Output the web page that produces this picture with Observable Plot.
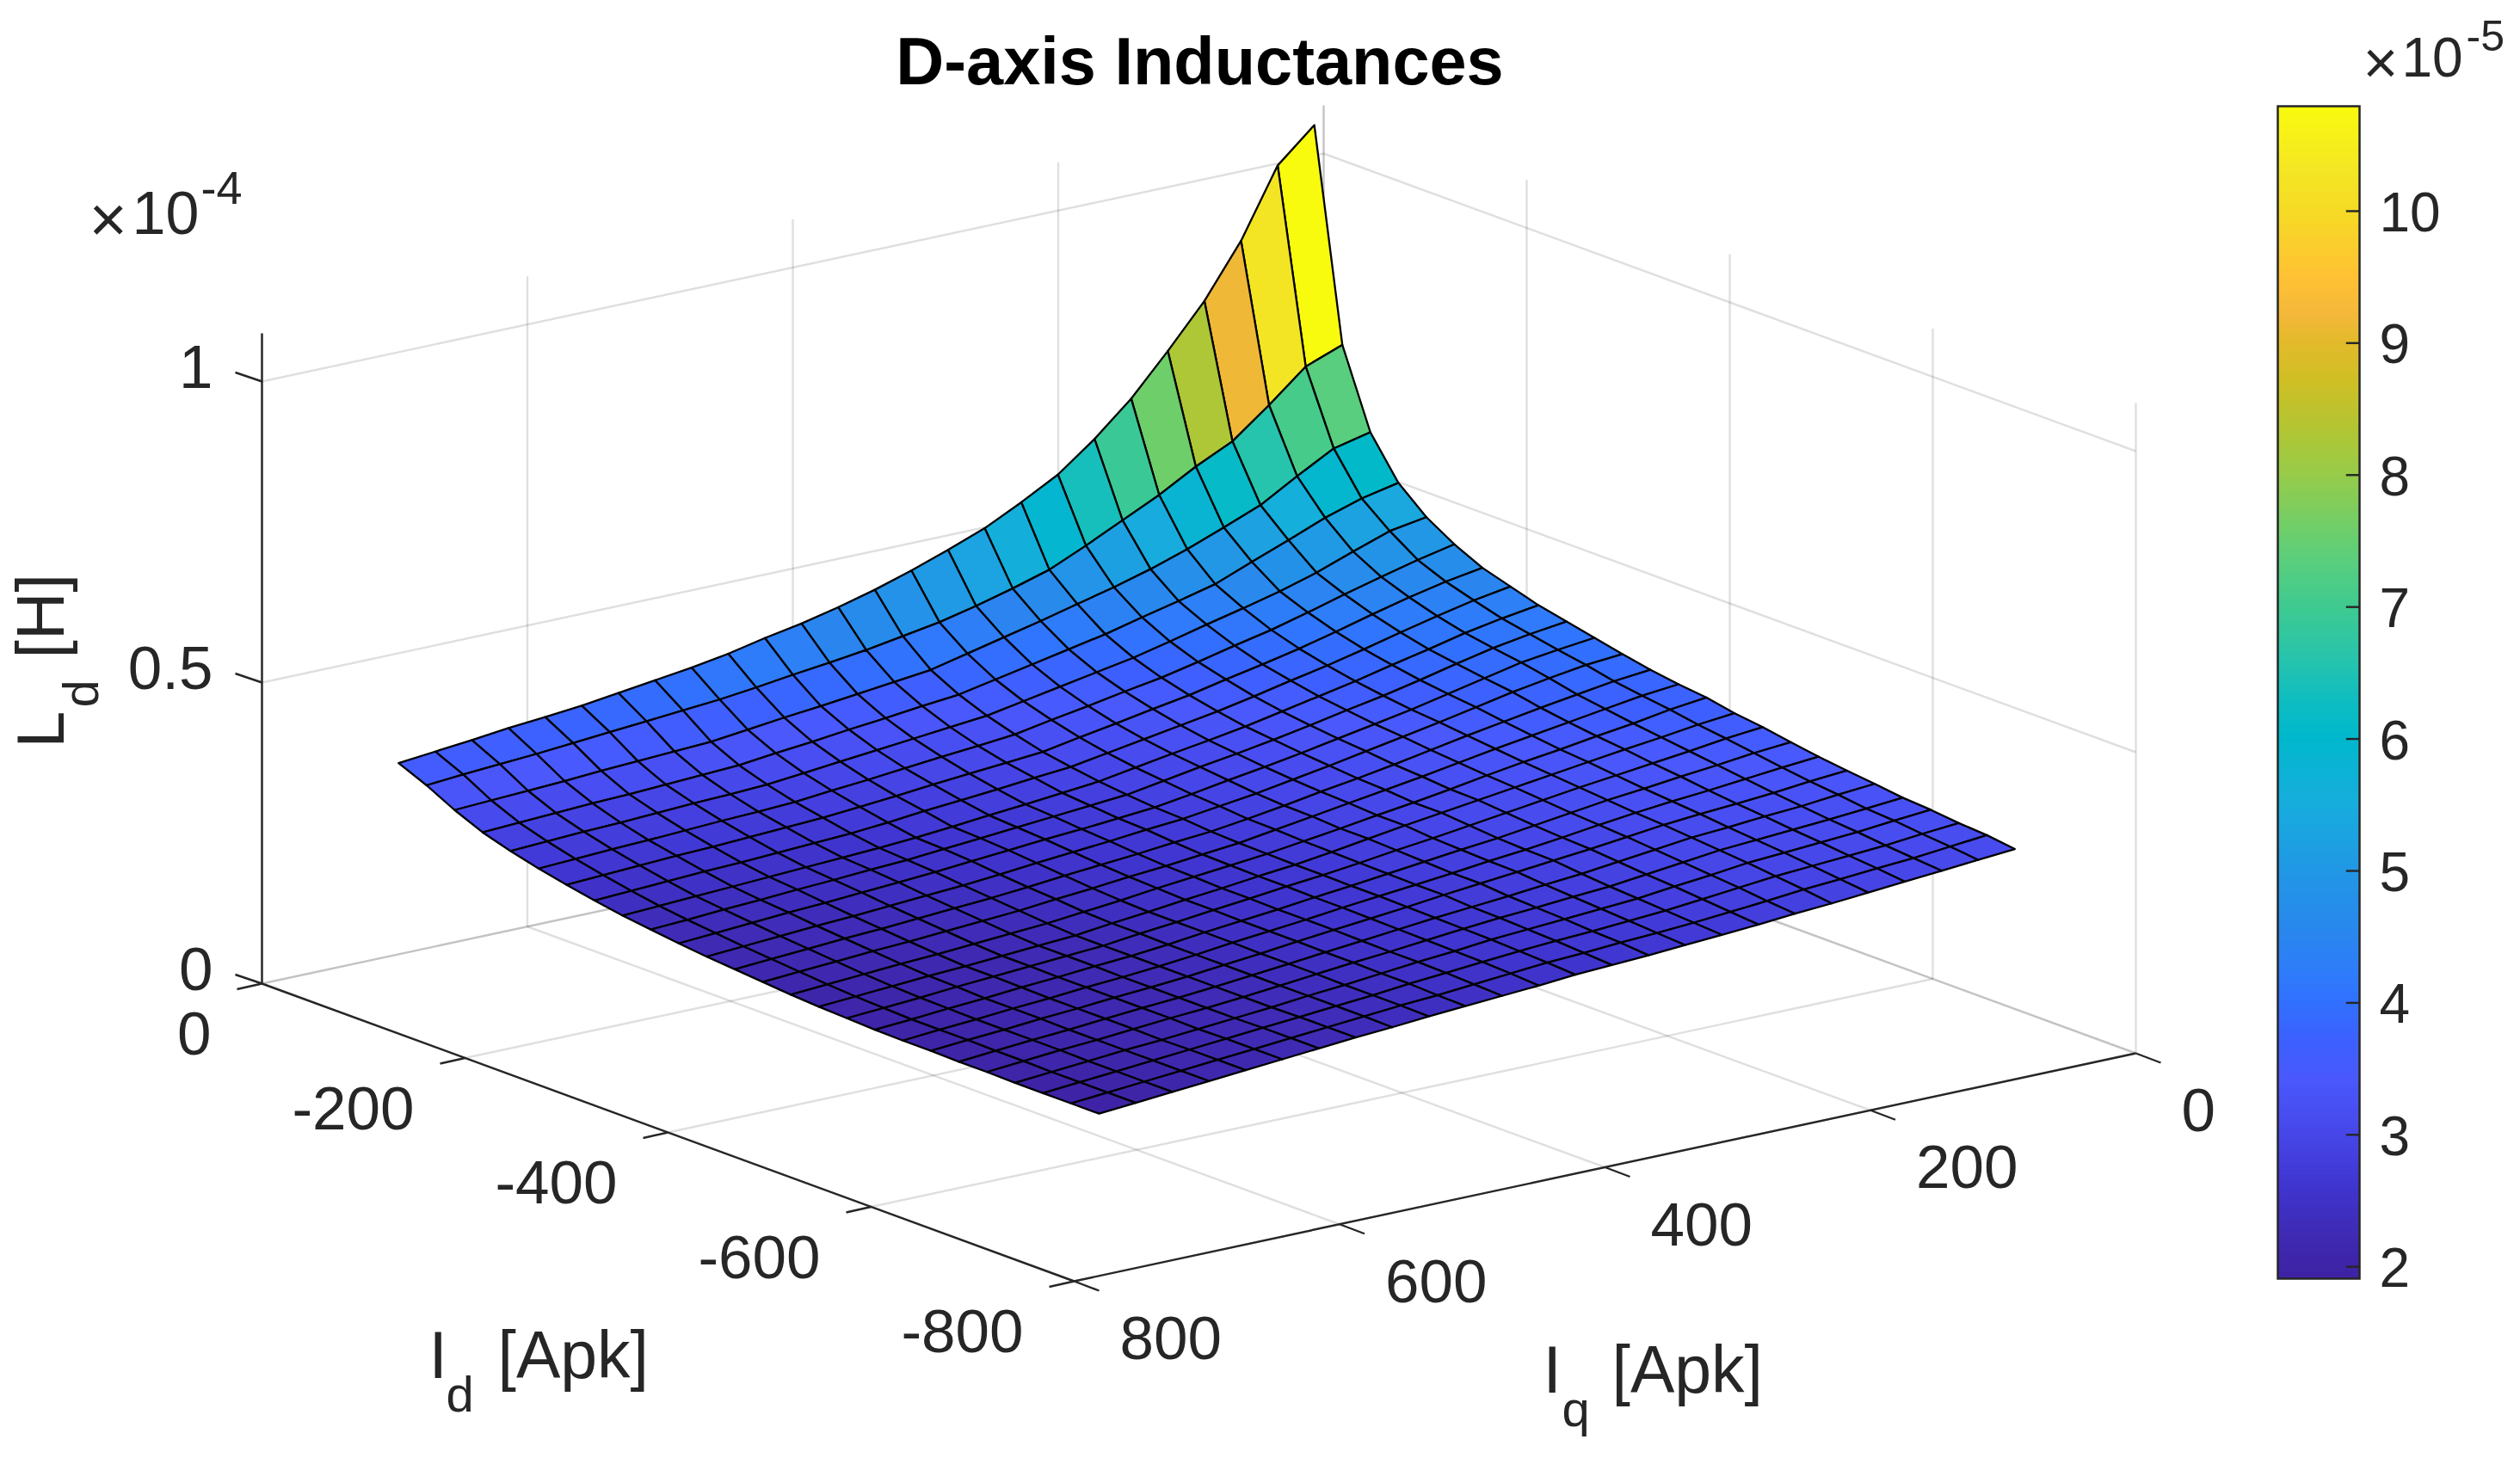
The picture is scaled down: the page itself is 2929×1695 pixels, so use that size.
<!DOCTYPE html>
<html><head><meta charset="utf-8">
<script src="https://cdn.jsdelivr.net/npm/d3@7"></script>
<script src="https://cdn.jsdelivr.net/npm/@observablehq/plot@0.6"></script>
<style>html,body{margin:0;background:#fff}#c{position:relative;width:2929px;height:1695px;overflow:hidden}#c svg{position:absolute;background:transparent}</style>
</head><body><div id="c"></div>
<script>
// Ld in units of 1e-7 H, rows by Id, columns by Iq
const LdGrid=[
[1080,1026,914,827,757,691,637,591,558,528,505,484,465,449,435,424,411,401,393,385,377,371,366,359,353,347],
[732,709,658,611,582,548,519,490,463,445,429,415,405,395,387,380,372,365,360,355,350,345,340,336,332,327],
[604,590,557,522,498,475,455,438,423,408,394,380,366,359,352,345,339,332,325,322,319,316,312,309,306,303],
[537,524,505,481,458,434,419,405,390,378,366,354,342,336,329,323,316,310,303,300,297,294,292,289,286,283],
[497,487,466,444,426,411,397,382,368,357,346,335,324,318,312,306,300,294,288,285,283,280,277,275,272,269],
[469,456,441,425,408,392,379,365,352,342,331,321,310,304,299,293,287,282,276,273,271,268,265,263,260,257],
[447,437,424,409,393,378,365,353,340,330,319,309,298,293,288,283,277,272,267,264,261,258,256,253,250,247],
[433,423,410,396,381,367,355,342,330,320,310,300,290,285,279,274,269,263,258,255,252,249,247,244,241,238],
[419,410,399,385,372,358,346,334,322,312,303,293,283,277,271,266,260,255,251,248,245,242,239,236,233,230],
[409,401,391,378,364,351,340,328,317,307,298,288,278,273,268,263,258,253,248,245,241,238,234,231,227,224],
[399,392,384,371,358,345,334,323,312,302,293,283,274,269,264,260,255,250,245,241,237,233,230,226,222,218],
[389,384,375,365,353,341,330,319,308,298,288,280,272,267,261,256,251,245,240,236,232,228,225,221,217,213],
[380,374,365,356,346,336,325,314,304,295,285,276,268,263,257,252,247,241,236,232,228,224,221,217,213,209],
[373,367,358,349,340,331,321,311,302,293,284,275,266,260,254,249,243,238,232,228,224,220,217,213,209,205],
[368,361,351,343,334,326,317,307,298,290,281,273,265,259,253,247,240,234,228,224,220,216,213,209,205,201],
[359,353,345,338,330,322,314,306,298,290,281,272,264,258,251,245,238,232,225,221,217,213,210,206,202,198],
[353,347,339,332,325,318,310,302,294,286,279,271,264,258,251,245,238,232,225,221,217,213,209,204,200,196],
[345,340,333,327,320,314,306,298,290,284,277,270,263,257,250,244,238,231,225,221,216,212,207,203,198,194],
[338,333,327,321,316,310,303,295,288,282,275,269,263,257,250,244,238,231,225,220,216,211,207,202,198,193],
[332,327,321,316,312,307,300,293,287,281,275,269,262,256,250,244,237,231,225,220,216,211,207,202,198,193],
[327,322,316,312,307,303,296,289,282,277,271,266,261,255,249,243,237,231,225,220,216,211,206,202,197,192],
[321,316,311,307,303,299,292,285,278,274,269,265,260,254,248,243,237,231,225,220,216,211,206,202,197,192],
[318,313,307,303,299,295,288,282,275,271,267,263,259,253,248,242,236,231,225,220,215,210,206,201,196,191],
[313,308,302,298,294,290,284,278,272,268,264,261,257,252,247,242,236,231,226,221,216,211,206,201,196,191],
[310,304,298,294,289,285,279,274,269,265,262,258,255,250,245,240,236,231,226,221,216,211,206,201,196,191],
[304,299,294,289,284,279,275,270,266,262,258,255,252,247,243,239,235,230,226,221,216,211,206,201,196,191]];
const IdGrid=[-30,-57.6,-85.2,-112.8,-140.4,-168,-195.6,-223.2,-250.8,-278.4,-306,-333.6,-361.2,-388.8,-416.4,-444,-471.6,-499.2,-526.8,-554.4,-582,-609.6,-637.2,-664.8,-692.4,-720];
const IqGrid=[30,57.6,85.2,112.8,140.4,168,195.6,223.2,250.8,278.4,306,333.6,361.2,388.8,416.4,444,471.6,499.2,526.8,554.4,582,609.6,637.2,664.8,692.4,720];
const idTicks=[0,-200,-400,-600,-800], iqTicks=[0,200,400,600,800], zTicks=[0,0.5,1], cbTicks=[2,3,4,5,6,7,8,9,10];
const zMaxBox=1.08;
const cbDomain=[1.91,2.3,2.6,3,3.4,3.7,4,4.2,4.5,5,5.5,6,6.3,6.6,7,7.3,7.6,8,8.3,8.7,9,9.2,9.5,10,10.3,10.8];
const cbRange=["#3E22A3","#3F2CB8","#4035D0","#4747E9","#4A58FC","#3D60FF","#3171FE","#2F7BFB","#2A86EE","#2198E5","#17ADDD","#00B8CC","#10BDC0","#28C4AC","#3FCA8F","#57CE80","#71CE68","#98CB49","#AFC635","#CFBF25","#E3BA2B","#F4B73A","#FFC234","#F5DB25","#F4E624","#F9FB0E"];
const FONT="Liberation Sans", INK="#262626";
// orthographic view of the axes box: (Id, Iq, Ld in 1e-4 H) -> view plane
const project=(id,iq,zE4)=>{const u=-id/800,v=1-iq/800;return {px:304+944*u+1234*v,py:1143+346*u-265*v-700*zE4};};
const seg=(a,b)=>{const p=project(...a),q=project(...b);return {x1:p.px,y1:p.py,x2:q.px,y2:q.py};};
const grid=[];
for(const q of iqTicks){grid.push(seg([0,q,0],[0,q,zMaxBox]));grid.push(seg([0,q,0],[-800,q,0]));}
for(const d of idTicks){grid.push(seg([d,0,0],[d,0,zMaxBox]));grid.push(seg([d,0,0],[d,800,0]));}
for(const z of zTicks){grid.push(seg([0,0,z],[0,800,z]));grid.push(seg([0,0,z],[-800,0,z]));}
const pts=[];let cid=0;
for(let i=0;i<25;i++)for(let j=0;j<25;j++){
 const val=LdGrid[i][j]/100;
 for(const [a,b] of [[i,j],[i+1,j],[i+1,j+1],[i,j+1]]){pts.push({cell:cid,val,...project(IdGrid[a],IqGrid[b],LdGrid[a][b]/1000)});}
 cid++;
}
const axes=[seg([0,800,0],[0,800,zMaxBox]),seg([0,800,0],[-800,800,0]),seg([-800,800,0],[-800,0,0])];
const tickSeg=[];
const add=(p,dx,dy)=>tickSeg.push({x1:p.px,y1:p.py,x2:p.px+dx,y2:p.py+dy});
for(const d of idTicks)add(project(d,800,0),-29,6.5);
for(const q of iqTicks)add(project(-800,q,0),29,11);
for(const z of zTicks)add(project(0,800,z),-31,-10.5);
const idL=idTicks.map(d=>({...project(d,800,0),t:String(d)}));
const iqL=iqTicks.map(q=>({...project(-800,q,0),t:String(q)}));
const zL=zTicks.map(z=>({...project(0,800,z),t:String(z)}));
const colorOpt={type:"linear",domain:cbDomain,range:cbRange};
const txt=(t,x,y,fs,extra={})=>Plot.text([t],{x:()=>x,y:()=>y,text:d=>d,fontSize:fs,fontFamily:FONT,fill:INK,textAnchor:"start",lineAnchor:"bottom",...extra});
const main=Plot.plot({width:2929,height:1695,marginTop:0,marginLeft:0,marginRight:0,marginBottom:0,
 x:{domain:[0,2929],range:[0,2929],axis:null},y:{domain:[0,1695],range:[0,1695],axis:null},color:colorOpt,
 style:{background:"transparent"},
 marks:[
  Plot.link(grid,{x1:"x1",y1:"y1",x2:"x2",y2:"y2",stroke:INK,strokeOpacity:.15,strokeWidth:2.4}),
  Plot.line(pts,{x:"px",y:"py",z:"cell",fill:"val",stroke:"#000",strokeWidth:2.3,curve:"linear-closed",strokeLinejoin:"round"}),
  Plot.link(axes,{x1:"x1",y1:"y1",x2:"x2",y2:"y2",stroke:INK,strokeWidth:2.4}),
  Plot.link(tickSeg,{x1:"x1",y1:"y1",x2:"x2",y2:"y2",stroke:INK,strokeWidth:2.4}),
  Plot.text(idL,{x:"px",y:"py",text:"t",dx:-59,dy:60,textAnchor:"end",lineAnchor:"middle",fontSize:71,fontFamily:FONT,fill:INK}),
  Plot.text(iqL,{x:"px",y:"py",text:"t",dx:53,dy:68,textAnchor:"start",lineAnchor:"middle",fontSize:71,fontFamily:FONT,fill:INK}),
  Plot.text(zL,{x:"px",y:"py",text:"t",dx:-57,dy:-15,textAnchor:"end",lineAnchor:"middle",fontSize:71,fontFamily:FONT,fill:INK}),
  txt("D-axis Inductances",1394,97,77.5,{textAnchor:"middle",fontWeight:"bold",fill:"#000"}),
  txt("\u00d7",103,280,76), txt("10",153,271,70), txt("-4",233,236,54),
  txt("\u00d7",2746,96,70), txt("10",2791,88,64), txt("-5",2866,58,50),
  txt("I",498,1601,77), txt("d",518,1640,58), txt("[Apk]",578,1601,77),
  txt("I",1793,1618,77), txt("q",1815,1657,58), txt("[Apk]",1873,1618,77),
  txt("L",73,869,77,{rotate:-90}), txt("d",113,822,58,{rotate:-90}), txt("[H]",73,765,77,{rotate:-90})
 ]});
main.style.left="0";main.style.top="0";
const cbBins=d3.range(1.91,10.8,0.02);
const cb=Plot.plot({width:95,height:1363,marginTop:0,marginLeft:0,marginRight:0,marginBottom:0,
 x:{domain:[0,1],axis:null},y:{domain:[1.91,10.795],axis:null},color:colorOpt,style:{background:"transparent",overflow:"visible"},
 marks:[
  Plot.rect(cbBins,{x1:0,x2:1,y1:d=>d,y2:d=>d+0.03,fill:d=>d,clip:true}),
  Plot.ruleY(cbTicks,{x1:.84,x2:1,stroke:INK,strokeWidth:2.4}),
  Plot.frame({stroke:INK,strokeWidth:2.5}),
  Plot.text(cbTicks,{x:()=>1,y:d=>d,text:d=>String(d),dx:23,dy:3,textAnchor:"start",lineAnchor:"middle",fontSize:64,fontFamily:FONT,fill:INK})
 ]});
cb.style.left="2647px";cb.style.top="123px";
document.getElementById("c").append(main,cb);
</script></body></html>
